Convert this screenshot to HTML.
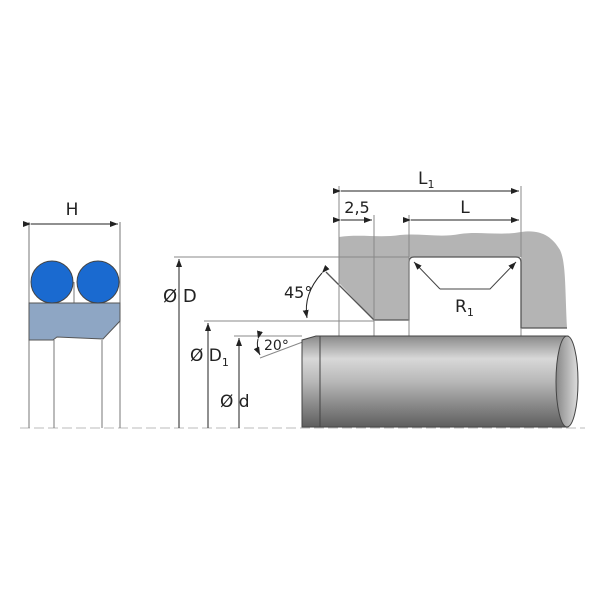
<!DOCTYPE html>
<html><head><style>html,body{margin:0;padding:0;background:#fff}svg{display:block}</style></head>
<body>
<svg width="600" height="600" viewBox="0 0 600 600" xmlns="http://www.w3.org/2000/svg" font-family="'DejaVu Sans','Liberation Sans',sans-serif">
<defs>
<linearGradient id="rod" x1="0" y1="0" x2="0" y2="1">
<stop offset="0" stop-color="#8a8a8a"/><stop offset="0.25" stop-color="#d8d8d8"/><stop offset="0.5" stop-color="#b8b8b8"/><stop offset="1" stop-color="#5e5e5e"/>
</linearGradient>
<linearGradient id="endc" x1="0" y1="0" x2="1" y2="0">
<stop offset="0" stop-color="#888"/><stop offset="1" stop-color="#ddd"/>
</linearGradient>
<marker id="ar" markerWidth="8" markerHeight="6" refX="8" refY="3" orient="auto" markerUnits="userSpaceOnUse"><path d="M0,0 L8,3 L0,6z" fill="#222"/></marker>
</defs>
<!-- centerline -->
<line x1="20" y1="428" x2="585" y2="428" stroke="#bbb" stroke-width="1" stroke-dasharray="10,4"/>

<!-- left seal -->
<g stroke="#777" stroke-width="1" fill="none">
<line x1="29" y1="222" x2="29" y2="428"/><line x1="120" y1="222" x2="120" y2="428"/>
<line x1="54" y1="340" x2="54" y2="428"/><line x1="102" y1="340" x2="102" y2="428"/>
<line x1="74" y1="282" x2="74" y2="303"/>
</g>
<line x1="31" y1="224" x2="118" y2="224" stroke="#222" marker-end="url(#ar)" marker-start="url(#ar)"/>
<text x="72" y="215" font-size="17" text-anchor="middle" fill="#222">H</text>
<polygon points="29,303 120,303 120,321 103,339 57,337 53,340 29,340" fill="#8ea6c4" stroke="#555" stroke-width="1"/>
<circle cx="52" cy="282" r="21" fill="#1a6ad0" stroke="#444" stroke-width="1"/>
<circle cx="98" cy="282" r="21" fill="#1a6ad0" stroke="#444" stroke-width="1"/>

<!-- housing -->
<path d="M339,237 C360,234 380,238 400,235 C420,233 440,238 460,234 C480,231 500,236 521,232 C540,229 552,236 560,250 C566,262 565,290 567,328 L521,328 L521,257 L409,257 L409,320 L374,320 L339,283 Z" fill="#b4b4b4"/>
<g stroke="#555" stroke-width="1.3" fill="none">
<path d="M374,320 L409,320 L409,262 Q409,257 414,257 L516,257 Q521,257 521,262 L521,328 L567,328"/>
<line x1="326" y1="272" x2="374" y2="320"/>
</g>
<!-- dimension extension lines -->
<g stroke="#888" stroke-width="1" fill="none">
<line x1="339" y1="186" x2="339" y2="336"/>
<line x1="521" y1="186" x2="521" y2="257"/>
<line x1="374" y1="215" x2="374" y2="336"/>
<line x1="409" y1="215" x2="409" y2="336"/>
<line x1="521" y1="328" x2="521" y2="336"/>
<line x1="174" y1="257" x2="409" y2="257"/>
<line x1="204" y1="321" x2="374" y2="321"/>
<line x1="234" y1="336" x2="302" y2="336"/>
<line x1="260" y1="358" x2="316" y2="337"/>
</g>
<line x1="341" y1="191" x2="519" y2="191" stroke="#222" marker-end="url(#ar)" marker-start="url(#ar)"/>
<text x="418" y="184" font-size="17" fill="#222">L<tspan font-size="11" dy="4">1</tspan></text>
<line x1="341" y1="220" x2="372" y2="220" stroke="#222" marker-end="url(#ar)" marker-start="url(#ar)"/>
<text x="357" y="213" font-size="16" text-anchor="middle" fill="#222">2,5</text>
<line x1="411" y1="220" x2="519" y2="220" stroke="#222" marker-end="url(#ar)" marker-start="url(#ar)"/>
<text x="465" y="213" font-size="17" text-anchor="middle" fill="#222">L</text>
<!-- R1 -->
<polyline points="440,289 414,262" fill="none" stroke="#444" marker-end="url(#ar)"/>
<polyline points="440,289 490,289 516,262" fill="none" stroke="#444" marker-end="url(#ar)"/>
<text x="455" y="312" font-size="17" fill="#222">R<tspan font-size="11" dy="4">1</tspan></text>

<!-- vertical dims -->
<line x1="179" y1="428" x2="179" y2="259" stroke="#222" marker-end="url(#ar)"/>
<line x1="208" y1="428" x2="208" y2="323" stroke="#222" marker-end="url(#ar)"/>
<line x1="239" y1="428" x2="239" y2="338" stroke="#222" marker-end="url(#ar)"/>
<text x="163" y="302" font-size="18" fill="#222">Ø D</text>
<text x="190" y="361" font-size="17" fill="#222">Ø D<tspan font-size="11" dy="5">1</tspan></text>
<text x="220" y="407" font-size="17" fill="#222">Ø d</text>
<!-- angles -->
<path d="M322,273 Q303,294 307,318" fill="none" stroke="#222" marker-end="url(#ar)" marker-start="url(#ar)"/>
<text x="284" y="298" font-size="16" fill="#222">45°</text>
<path d="M258,339 Q256,347 260,355" fill="none" stroke="#222" marker-end="url(#ar)" marker-start="url(#ar)"/>
<text x="264" y="350" font-size="14" fill="#222">20°</text>

<!-- rod -->
<path d="M302,340 L316,336 L568,336 L568,427 L302,427 Z" fill="url(#rod)" stroke="#444" stroke-width="1"/>
<line x1="320" y1="336" x2="320" y2="427" stroke="#444"/>
<ellipse cx="567" cy="381.5" rx="11" ry="45.5" fill="url(#endc)" stroke="#444" stroke-width="1"/>
</svg>
</body></html>
